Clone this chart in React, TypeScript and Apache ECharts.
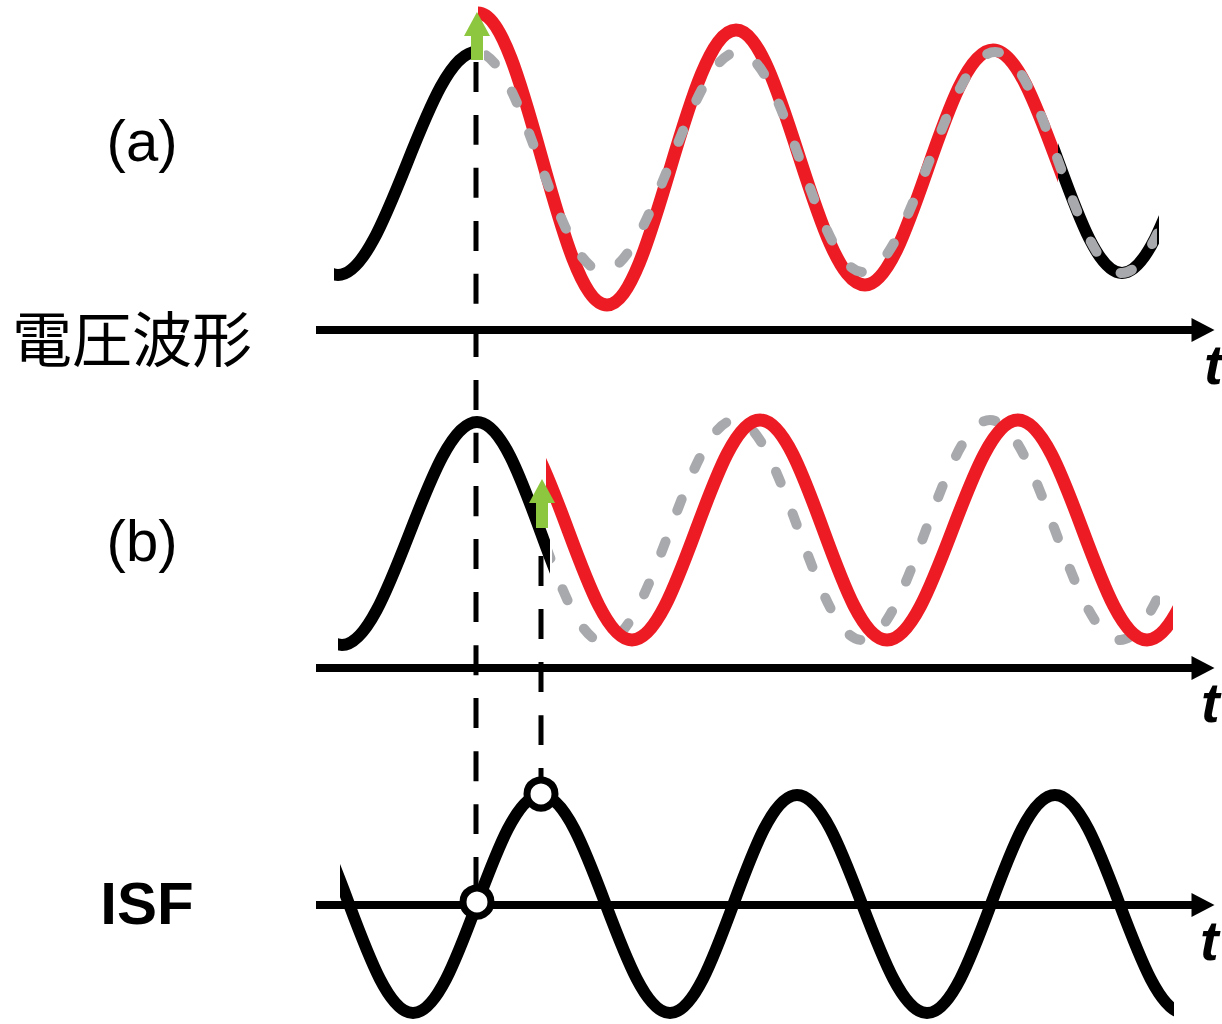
import React, { useEffect, useRef } from "react";
import * as echarts from "echarts";

// Horizontal time axes (y positions, picture units) and their extent
const axisRows = [330, 668, 905];
const axisFrom = 316;
const axisTo = 1203;

// Waveform extrema (peaks / troughs); each wave is drawn
// only over its visible time span.
// (a) free-running oscillation and the perturbed (red) one
const aWave = [[82, 275], [210, 52], [338, 275], [476, 52], [603, 271], [738, 52], [863, 272], [995, 52], [1122, 273], [1250, 52], [1380, 273]];
const aRedWave = [[220, 13], [349, 305], [478, 13], [607, 305], [736, 30], [865, 285], [993, 50], [1122, 273], [1250, 52], [1380, 273]];
// (b)
const bWave = [[86, 645], [214, 422], [342, 645], [477, 422], [604, 642], [735, 420], [862, 640], [990, 420], [1120, 640], [1250, 420], [1380, 640]];
const bRedWave = [[376, 640], [504, 420], [632, 640], [760, 420], [887, 640], [1018, 420], [1147, 640], [1275, 420], [1403, 640]];
// ISF
const isfWave = [[157, 1013], [285, 795], [413, 1013], [541, 795], [670, 1013], [797, 795], [927, 1013], [1055, 795], [1184, 1013], [1312, 795], [1440, 1013]];

// Visible time spans [from, to]
const aBlackSpans = [[334, 476], [1058, 1159]];
const aRedSpans = [[478, 1058]];
const aGraySpans = [[484, 1157]];
const bBlackSpans = [[338, 550]];
const bRedSpans = [[546, 1173]];
const bGraySpans = [[552, 1160]];
const isfSpans = [[340, 1174]];

// Guide lines, markers and impulses
const guide1 = [[476, 62], [476, 885]];
const guide2 = [[541, 556], [541, 780]];
const isfMarks = [[477, 902], [541, 794]];
const impulses = [[[477, 60], [477, 24]], [[542, 528], [542, 491]]];

const RED = "#ED1C24";
const GRAY = "#A7A9AC";
const GREEN = "#8DC63F";
const CLEAR = "rgba(0,0,0,0)";

export default function App() {
  const ref = useRef<HTMLDivElement>(null);
  useEffect(() => {
    const chart = echarts.init(ref.current!, null, { renderer: "svg" });
    const series: any[] = [];
    const visualMaps: any[] = [];
    const curve = (data: number[][], color: string, width: number, extra: any = {}, spans?: number[][]) => {
      const idx = series.length;
      const lineStyle: any = { width, cap: "round", join: "round", ...extra };
      if (!spans) lineStyle.color = color;
      series.push({
        type: "line",
        data,
        color,
        smooth: 0.364,
        showSymbol: false,
        symbol: "none",
        silent: true,
        clip: false,
        emphasis: { disabled: true },
        lineStyle,
      });
      if (spans) {
        const pieces: any[] = [];
        let prev = -10000;
        let first = true;
        spans.forEach(([a, b]) => {
          if (first) pieces.push({ gte: prev, lt: a, color: CLEAR });
          else pieces.push({ gt: prev, lt: a, color: CLEAR });
          pieces.push({ gte: a, lte: b, color });
          prev = b;
          first = false;
        });
        pieces.push({ gt: prev, lte: 10000, color: CLEAR });
        visualMaps.push({ type: "piecewise", show: false, dimension: 0, seriesIndex: idx, pieces });
      }
    };
    const grayDash = { type: [12, 33] };
    const guideDash = { type: [30, 23], cap: "butt" };

    curve(guide1, "#000", 5, guideDash);
    curve(guide2, "#000", 5, guideDash);
    series.push({
      type: "line",
      data: [[axisFrom, axisRows[0]]],
      symbol: "none",
      showSymbol: false,
      silent: true,
      lineStyle: { width: 0 },
      markLine: {
        silent: true,
        symbol: ["none", "triangle"],
        symbolSize: [24, 23],
        label: { show: false },
        emphasis: { disabled: true },
        lineStyle: { color: "#000", width: 8, type: "solid" },
        data: axisRows.map((y) => [{ coord: [axisFrom, y] }, { coord: [axisTo, y] }]),
      },
    });
    curve(aWave, "#000", 12, {}, aBlackSpans);
    curve(bWave, "#000", 12, {}, bBlackSpans);
    // impulse arrows: above the black waveform, below the red response
    series.push({
      type: "line",
      data: [impulses[0][0]],
      symbol: "none",
      showSymbol: false,
      silent: true,
      lineStyle: { width: 0 },
      markLine: {
        silent: true,
        symbol: ["none", "triangle"],
        symbolSize: [26, 24],
        label: { show: false },
        emphasis: { disabled: true },
        lineStyle: { color: GREEN, width: 12, type: "solid", cap: "butt", opacity: 1 },
        itemStyle: { color: GREEN },
        data: impulses.map((seg) => [{ coord: seg[0] }, { coord: seg[1] }]),
      },
    });
    curve(aRedWave, RED, 13, {}, aRedSpans);
    curve(aWave, GRAY, 10, grayDash, aGraySpans);
    curve(bWave, GRAY, 10, grayDash, bGraySpans);
    curve(bRedWave, RED, 13, {}, bRedSpans);
    curve(isfWave, "#000", 12, {}, isfSpans);
    series.push({
      type: "scatter",
      data: isfMarks,
      symbol: "circle",
      symbolSize: 28,
      silent: true,
      itemStyle: { color: "#fff", borderColor: "#000", borderWidth: 7, opacity: 1 },
      z: 5,
    });

    const font = "'Liberation Sans', Arial, sans-serif";
    const label = (text: string, x: number, y: number, size: number, weight = "normal", style = "normal", align = "center", family = font) => ({
      type: "text",
      x,
      y,
      style: { text, fill: "#000", fontSize: size, fontWeight: weight, fontStyle: style, fontFamily: family, align, verticalAlign: "middle" },
    });
    chart.setOption({
      animation: false,
      grid: { left: 0, right: 0, top: 0, bottom: 0 },
      xAxis: { type: "value", min: 0, max: 1222, show: false },
      yAxis: { type: "value", min: 0, max: 1024, inverse: true, show: false },
      visualMap: visualMaps,
      series,
      graphic: [
        label("(a)", 142, 140, 58),
        label("電圧波形", 132, 335, 60, "normal", "normal", "center", "'Noto Sans CJK JP', sans-serif"),
        label("(b)", 142, 540, 58),
        label("ISF", 147, 903, 60, "bold"),
        label("t", 1204, 364, 56, "bold", "italic", "left"),
        label("t", 1201, 702, 56, "bold", "italic", "left"),
        label("t", 1200, 940, 56, "bold", "italic", "left"),
      ],
    });
    return () => chart.dispose();
  }, []);
  return <div ref={ref} style={{ position: "absolute", left: 0, top: 0, width: 1222, height: 1024 }} />;
}
